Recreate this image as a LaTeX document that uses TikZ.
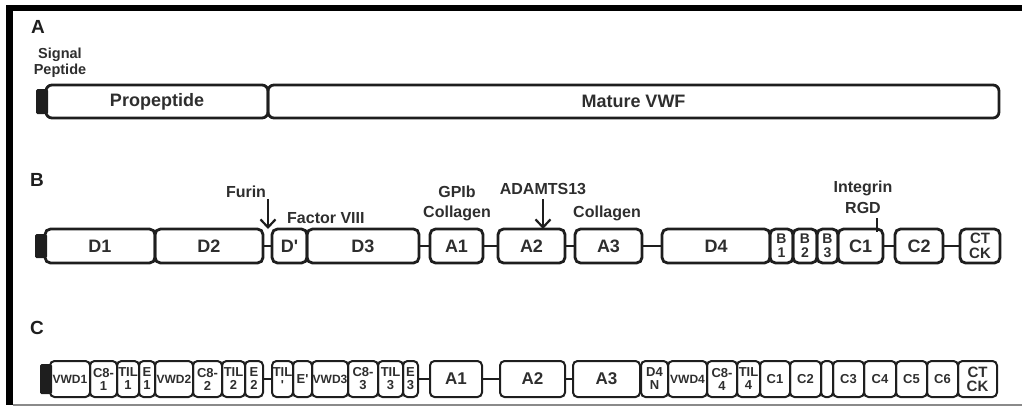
\documentclass[tikz,border=0pt]{standalone}
\usepackage{fontspec}
\setmainfont{Liberation Sans}
\usetikzlibrary{arrows.meta}
\definecolor{ink}{HTML}{1E1E1E}
\definecolor{txt}{HTML}{2E2E2E}
\definecolor{rule}{HTML}{8A8A8A}
\newcommand{\fsz}[1]{\fontsize{#1}{#1}\selectfont}
\newcommand{\pq}{\textquotesingle}
\tikzset{
  bxA/.style={draw=ink, line width=2.8pt, rounded corners=6pt, minimum height=33pt, inner sep=0pt, outer sep=0pt, anchor=west, text=txt, font=\bfseries\fsz{18}},
  bxB/.style={draw=ink, line width=2.8pt, rounded corners=5.5pt, minimum height=34pt, inner sep=0pt, outer sep=0pt, anchor=west, text=txt, font=\bfseries\fsz{18}},
  bxBs/.style={bxB, align=center, font=\bfseries\fontsize{14}{14}\selectfont},
  bxC/.style={draw=ink, line width=2pt, rounded corners=4.5pt, minimum height=36pt, inner sep=0pt, outer sep=0pt, anchor=west, text=txt, font=\bfseries\fsz{12}},
  bxCs/.style={bxC, align=center, font=\bfseries\fontsize{13}{13}\selectfont},
  bxCb/.style={bxC, font=\bfseries\fsz{17}},
  bxCm/.style={bxC, font=\bfseries\fsz{13}},
  capbox/.style={fill=ink, draw=none, rounded corners=1.5pt, inner sep=0pt, outer sep=0pt, anchor=east, minimum width=12pt},
  conn/.style={draw=ink, line width=2.8pt},
  connC/.style={draw=ink, line width=2.2pt},
  lab/.style={text=txt, font=\bfseries\fsz{16}, inner sep=0pt, align=center},
  panel/.style={text=ink, font=\bfseries\fsz{19}, inner sep=0pt},
  arr/.style={draw=ink, line width=2.2pt, -{Straight Barb[length=8pt,width=15pt,line width=2.2pt]}},
}
\begin{document}
\begin{tikzpicture}[x=1pt,y=-1pt]
\useasboundingbox (0,0) rectangle (1022,407);
% frame
\fill[black] (6,5) rectangle (1022,11);
\fill[black] (6,5) rectangle (13,405);
\draw[rule, line width=1.5pt] (13,405) -- (1022,405);

% ---------- Panel A ----------
\node[panel] (lA) at (38,27) {A};
\node[lab, font=\bfseries\fontsize{14.5}{16}\selectfont] (sig) at (60,63) {Signal\\Peptide};
\node[capbox, minimum height=25pt] (capA) at (48,101.5) {};
\node[bxA, minimum width=222pt] (pro) at (46,101.5) {Propeptide};
\node[bxA, minimum width=731pt] (mat) at (268,101.5) {Mature VWF\hspace{32pt}};

% ---------- Panel B ----------
\node[panel] (lB) at (37,180) {B};
\node[capbox, minimum height=24pt] (capB) at (47,246) {};
\node[bxB, minimum width=110pt] (D1) at (45,246) {D1};
\node[bxB, minimum width=108pt] (D2) at (155,246) {D2};
\node[bxB, minimum width=35pt] (Dp) at (272,246) {D\pq};
\node[bxB, minimum width=112pt] (D3) at (307,246) {D3};
\node[bxB, minimum width=53pt] (A1) at (430,246) {A1};
\node[bxB, minimum width=67pt] (A2) at (498,246) {A2};
\node[bxB, minimum width=67pt] (A3) at (575,246) {A3};
\node[bxB, minimum width=108pt] (D4) at (662,246) {D4};
\node[bxBs, minimum width=23pt] (B1) at (770,246) {B\\1};
\node[bxBs, minimum width=24pt] (B2) at (793,246) {B\\2};
\node[bxBs, minimum width=21pt] (B3) at (817,246) {B\\3};
\node[bxB, minimum width=45pt] (C1) at (838,246) {C1};
\node[bxB, minimum width=48pt] (C2) at (895,246) {C2};
\node[bxBs, minimum width=40pt, font=\bfseries\fontsize{15}{14.5}\selectfont] (CK) at (960,246) {CT\\CK};
\draw[conn] (D2.east) -- (Dp.west);
\draw[conn] (D3.east) -- (A1.west);
\draw[conn] (A1.east) -- (A2.west);
\draw[conn] (A2.east) -- (A3.west);
\draw[conn] (A3.east) -- (D4.west);
\draw[conn] (C1.east) -- (C2.west);
\draw[conn] (C2.east) -- (CK.west);
% labels B
\node[lab] (furin) at (246,192) {Furin};
\coordinate (fT) at (268,199);
\draw[arr] (fT) -- (fT |- Dp.north);
\node[lab, anchor=west] (f8) at (287,218) {Factor VIII};
\node[lab] (gp) at (457,192) {GPIb};
\node[lab] (col1) at (457,213) {Collagen};
\node[lab] (adam) at (543,189) {ADAMTS13};
\coordinate (aT) at (543,199);
\draw[arr] (aT) -- (aT |- A2.north);
\node[lab] (col2) at (607,213) {Collagen};
\node[lab] (integ) at (863,188) {Integrin};
\node[lab] (rgd) at (863,208) {RGD};
\coordinate (rT) at (877,218);
\draw[draw=ink, line width=1.6pt] (rT) -- ([yshift=-3pt]rT |- C1.north);

% ---------- Panel C ----------
\node[panel] (lC) at (37,328) {C};
\node[capbox, minimum height=30pt] (capC) at (52,379) {};
\node[bxC, minimum width=40pt] (vwd1) at (50,379) {VWD1};
\node[bxCs, minimum width=27pt] (c81) at (90,379) {C8-\\1};
\node[bxCs, minimum width=22pt] (til1) at (117,379) {TIL\\1};
\node[bxCs, minimum width=16pt] (e1) at (139,379) {E\\1};
\node[bxC, minimum width=38pt] (vwd2) at (155,379) {VWD2};
\node[bxCs, minimum width=29pt] (c82) at (193,379) {C8-\\2};
\node[bxCs, minimum width=23pt] (til2) at (222,379) {TIL\\2};
\node[bxCs, minimum width=18pt] (e2) at (245,379) {E\\2};
\node[bxCs, minimum width=21pt] (tilp) at (272,379) {TIL\\\pq};
\node[bxCm, minimum width=19pt] (ep) at (293,379) {E\pq};
\node[bxC, minimum width=36pt] (vwd3) at (312,379) {VWD3};
\node[bxCs, minimum width=30pt] (c83) at (348,379) {C8-\\3};
\node[bxCs, minimum width=25pt] (til3) at (378,379) {TIL\\3};
\node[bxCs, minimum width=15pt] (e3) at (403,379) {E\\3};
\node[bxCb, minimum width=52pt] (cA1) at (430,379) {A1};
\node[bxCb, minimum width=65pt] (cA2) at (500,379) {A2};
\node[bxCb, minimum width=67pt] (cA3) at (573,379) {A3};
\node[bxCs, minimum width=27pt] (d4n) at (641,379) {D4\\N};
\node[bxC, minimum width=39pt] (vwd4) at (668,379) {VWD4};
\node[bxCs, minimum width=30pt] (c84) at (707,379) {C8-\\4};
\node[bxCs, minimum width=23pt] (til4) at (737,379) {TIL\\4};
\node[bxCm, minimum width=30pt] (cC1) at (760,379) {C1};
\node[bxCm, minimum width=31pt] (cC2) at (790,379) {C2};
\node[bxC, minimum width=12pt] (blank) at (821,379) {};
\node[bxCm, minimum width=31pt] (cC3) at (833,379) {C3};
\node[bxCm, minimum width=32pt] (cC4) at (864,379) {C4};
\node[bxCm, minimum width=31pt] (cC5) at (896,379) {C5};
\node[bxCm, minimum width=31pt] (cC6) at (927,379) {C6};
\node[bxCs, minimum width=39pt, font=\bfseries\fontsize{15}{14}\selectfont] (cCK) at (958,379) {CT\\CK};
\draw[connC] (e2.east) -- (tilp.west);
\draw[connC] (e3.east) -- (cA1.west);
\draw[connC] (cA1.east) -- (cA2.west);
\draw[connC] (cA2.east) -- (cA3.west);
\end{tikzpicture}
\end{document}
